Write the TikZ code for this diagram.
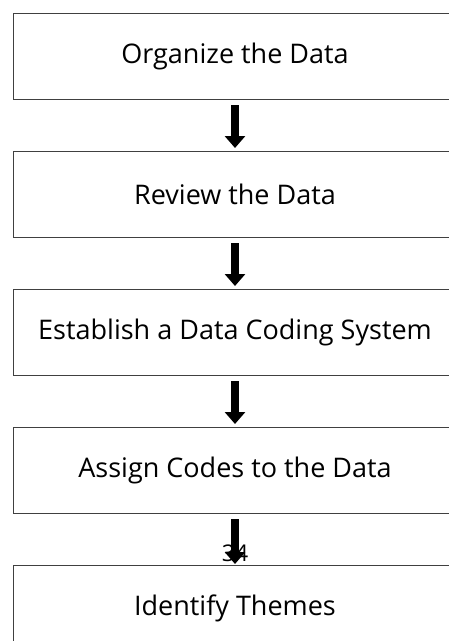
\documentclass[tikz,border=0pt]{standalone}
\usepackage{fontspec}
\setmainfont{Open Sans}
\usetikzlibrary{positioning,arrows.meta}
\begin{document}
\begin{tikzpicture}[x=1pt, y=1pt, node distance=51pt, auto]
\tikzset{stage/.style={rectangle, draw=black!75, line width=1pt, minimum width=444pt, minimum height=86pt, text centered, font=\fontsize{27}{32}\selectfont, inner sep=4pt, fill=white}}
\tikzset{flow/.style={line width=8pt, -{Triangle[width=20pt, length=12pt]}, shorten <=5pt, shorten >=3pt}}

\clip (0,0) rectangle (449,-641);
\useasboundingbox (0,0) rectangle (449,-641);

\node[stage] (organize) at (235,-56.5) {Organize the Data};
\node[stage, below=of organize] (review) {Review the Data};
\node[stage, below=of review] (coding) {Establish a Data Coding System};
\node[stage, below=of coding] (assign) {Assign Codes to the Data};
\node[stage, below=of assign] (themes) {Identify Themes};

\node[font=\fontsize{23}{26}\selectfont, inner sep=0pt] (page) at (235,-553) {34};

\draw[flow] (organize) -- (review);
\draw[flow] (review) -- (coding);
\draw[flow] (coding) -- (assign);
\draw[flow, shorten >=1pt] (assign) -- (themes);
\end{tikzpicture}
\end{document}
